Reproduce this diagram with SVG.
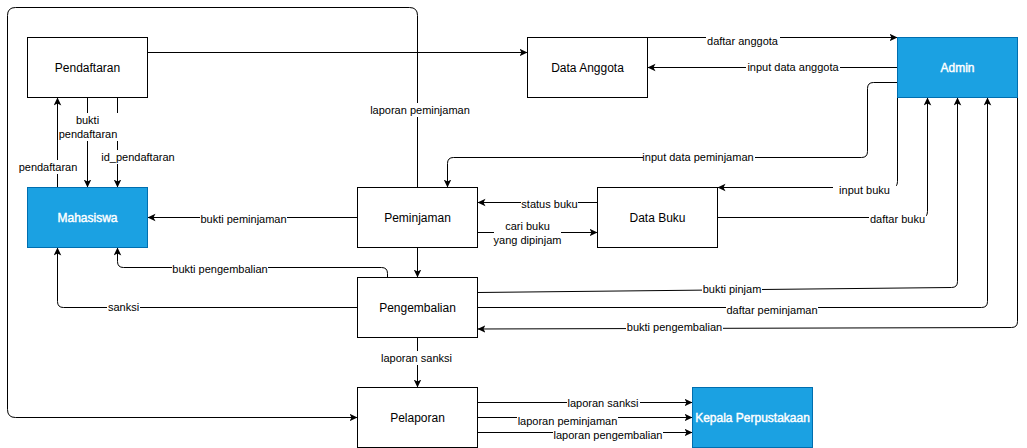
<svg xmlns="http://www.w3.org/2000/svg" width="1027" height="448" viewBox="0 0 1027 448">
<defs>
<marker id="arr" markerWidth="10" markerHeight="10" refX="8" refY="4" orient="auto" markerUnits="userSpaceOnUse">
<path d="M0,0.2 L8,4 L0,7.8 L2,4 Z" fill="#000"/>
</marker>
<style>
.n{fill:#fff;stroke:#000;stroke-width:1}
.b{fill:#1ba1e2;stroke:#006eaf;stroke-width:1}
.t{font-family:"Liberation Sans",Arial,sans-serif;font-size:12px;fill:#000;text-anchor:middle}
.tw{font-family:"Liberation Sans",Arial,sans-serif;font-size:12px;fill:#fff;stroke:#fff;stroke-width:0.4;text-anchor:middle}
.e{fill:none;stroke:#000;stroke-width:1}
.a{marker-end:url(#arr)}
.l{font-family:"Liberation Sans",Arial,sans-serif;font-size:11px;fill:#000;text-anchor:middle}
.bg{fill:#fff;stroke:none}
</style>
</defs>
<rect x="0" y="0" width="1027" height="448" fill="#fff"/>
<g id="connectors">
<path class="e a" d="M417.5,187.5 V15.5 Q417.5,7.5 409.5,7.5 H15.5 Q7.5,7.5 7.5,15.5 V409.5 Q7.5,417.5 15.5,417.5 H357.5"/>
<path class="e a" d="M147.5,52.5 H527.5"/>
<path class="e a" d="M647.5,37.5 H897.5"/>
<path class="e a" d="M897.5,67.5 H647.5"/>
<path class="e a" d="M897.5,82.5 H873.5 Q867.5,82.5 867.5,88.5 V151.5 Q867.5,157.5 861.5,157.5 H453.5 Q447.5,157.5 447.5,163.5 V187.5"/>
<path class="e a" d="M897.5,97.5 V181.5 Q897.5,187.5 891.5,187.5 H717.5"/>
<path class="e a" d="M717.5,217.5 H921.5 Q927.5,217.5 927.5,211.5 V97.5"/>
<path class="e a" d="M477.5,292.5 L951.5,287.5 Q957.5,287.5 957.5,281.5 V97.5"/>
<path class="e a" d="M477.5,307.5 H981.5 Q987.5,307.5 987.5,301.5 V97.5"/>
<path class="e a" d="M1017.5,97.5 V321.5 Q1017.5,327.5 1011.5,327.5 L477.5,329"/>
<path class="e a" d="M597.5,202.5 H477.5"/>
<path class="e a" d="M477.5,232.5 H597.5"/>
<path class="e a" d="M357.5,217.5 H147.5"/>
<path class="e a" d="M417.5,247.5 V277.5"/>
<path class="e a" d="M387.5,277.5 V273.5 Q387.5,267.5 381.5,267.5 H123.5 Q117.5,267.5 117.5,261.5 V247.5"/>
<path class="e a" d="M357.5,307.5 H63.5 Q57.5,307.5 57.5,301.5 V247.5"/>
<path class="e a" d="M417.5,337.5 V387.5"/>
<path class="e a" d="M477.5,402.5 H692.5"/>
<path class="e a" d="M477.5,417.5 H692.5"/>
<path class="e a" d="M477.5,432.5 H692.5"/>
<path class="e a" d="M57.5,187.5 V97.5"/>
<path class="e a" d="M87.5,97.5 V187.5"/>
<path class="e a" d="M117.5,97.5 V187.5"/>
<g id="edge-labels">
<rect class="bg" x="371" y="103" width="98" height="14"/>
<text class="l" x="420" y="114">laporan peminjaman</text>
<rect class="bg" x="706" y="34" width="74" height="14"/>
<text class="l" x="742.5" y="45">daftar anggota</text>
<rect class="bg" x="746" y="60" width="94" height="14"/>
<text class="l" x="793" y="71">input data anggota</text>
<rect class="bg" x="643" y="150" width="112" height="14"/>
<text class="l" x="698" y="161">input data peminjaman</text>
<rect class="bg" x="833" y="183" width="63" height="14"/>
<text class="l" x="864.5" y="194">input buku</text>
<rect class="bg" x="869" y="211.5" width="57" height="14"/>
<text class="l" x="897.5" y="222.5">daftar buku</text>
<rect class="bg" x="702" y="282" width="60" height="14"/>
<text class="l" x="732" y="293">bukti pinjam</text>
<rect class="bg" x="726" y="303" width="92" height="14"/>
<text class="l" x="772" y="314">daftar peminjaman</text>
<rect class="bg" x="626" y="319.5" width="97" height="14"/>
<text class="l" x="674.5" y="330.5">bukti pengembalian</text>
<rect class="bg" x="521" y="197" width="57" height="14"/>
<text class="l" x="549.5" y="208">status buku</text>
<rect class="bg" x="494" y="220" width="67" height="27"/>
<text class="l" x="527.5" y="230">cari buku</text>
<text class="l" x="527.5" y="243.5">yang dipinjam</text>
<rect class="bg" x="200" y="211.5" width="87" height="14"/>
<text class="l" x="243.5" y="222.5">bukti peminjaman</text>
<rect class="bg" x="172" y="261.5" width="96" height="14"/>
<text class="l" x="220" y="272.5">bukti pengembalian</text>
<rect class="bg" x="107" y="300" width="33" height="14"/>
<text class="l" x="123.5" y="311">sanksi</text>
<rect class="bg" x="380" y="351" width="73" height="14"/>
<text class="l" x="416.5" y="362">laporan sanksi</text>
<rect class="bg" x="567" y="395.5" width="73" height="14"/>
<text class="l" x="603" y="406.5">laporan sanksi</text>
<rect class="bg" x="517" y="414" width="101" height="14"/>
<text class="l" x="567.5" y="425">laporan peminjaman</text>
<rect class="bg" x="553" y="428" width="110" height="14"/>
<text class="l" x="608" y="439">laporan pengembalian</text>
<rect class="bg" x="18" y="160" width="60" height="14"/>
<text class="l" x="48" y="171">pendaftaran</text>
<rect class="bg" x="58" y="113" width="61" height="28"/>
<text class="l" x="87.5" y="123.5">bukti</text>
<text class="l" x="88" y="137.5">pendaftaran</text>
<rect class="bg" x="101" y="150" width="75" height="14"/>
<text class="l" x="138" y="161">id_pendaftaran</text>
</g>
</g>
<g id="pendaftaran"><rect class="n" x="27.5" y="37.5" width="120" height="60"/><text class="t" x="87.5" y="71.5">Pendaftaran</text></g>
<g id="data-anggota"><rect class="n" x="527.5" y="37.5" width="120" height="60"/><text class="t" x="587.5" y="71.5">Data Anggota</text></g>
<g id="admin"><rect class="b" x="897.5" y="37.5" width="120" height="60"/><text class="tw" x="957.5" y="71.5">Admin</text></g>
<g id="mahasiswa"><rect class="b" x="27.5" y="187.5" width="120" height="60"/><text class="tw" x="87.5" y="221.5">Mahasiswa</text></g>
<g id="peminjaman"><rect class="n" x="357.5" y="187.5" width="120" height="60"/><text class="t" x="417.5" y="221.5">Peminjaman</text></g>
<g id="data-buku"><rect class="n" x="597.5" y="187.5" width="120" height="60"/><text class="t" x="657.5" y="221.5">Data Buku</text></g>
<g id="pengembalian"><rect class="n" x="357.5" y="277.5" width="120" height="60"/><text class="t" x="417.5" y="311.5">Pengembalian</text></g>
<g id="pelaporan"><rect class="n" x="357.5" y="387.5" width="120" height="60"/><text class="t" x="417.5" y="421.5">Pelaporan</text></g>
<g id="kepala-perpustakaan"><rect class="b" x="692.5" y="387.5" width="120" height="60"/><text class="tw" x="752.5" y="421.5">Kepala Perpustakaan</text></g>
</svg>
